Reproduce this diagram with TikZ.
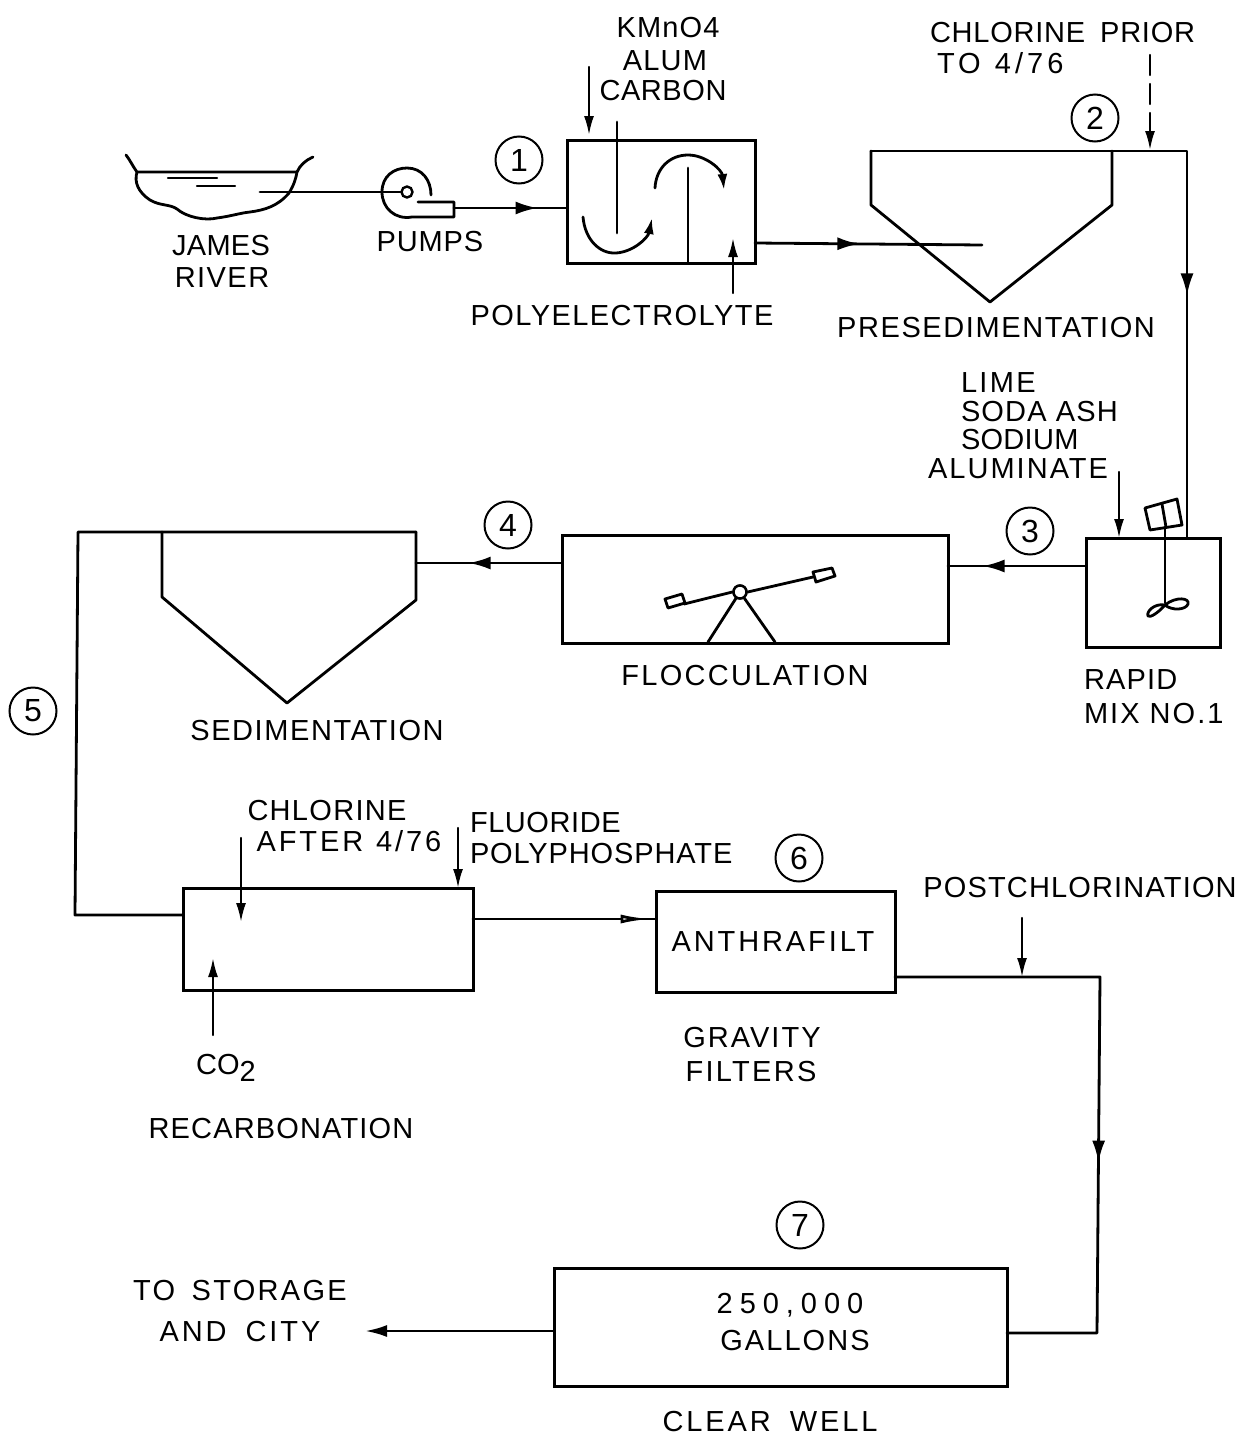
\documentclass[tikz,border=0pt]{standalone}
\usepackage{fontspec}
\usepackage{graphicx}
\setmainfont{Liberation Sans}
\usetikzlibrary{arrows.meta,decorations.markings}
\newcommand{\lblfont}{\fontsize{29}{31}\selectfont}
\newcommand{\wide}[2]{\scalebox{#1}[1]{#2}}
\tikzset{
  ink/.style={line width=2.8pt,line cap=round,line join=round,black},
  fine/.style={line width=2.2pt,line cap=round,line join=round,black},
  box/.style={draw,line width=3pt,inner sep=0pt,outer sep=0pt,rectangle},
  num/.style={draw,circle,line width=2pt,minimum size=47pt,inner sep=0pt,font=\fontsize{32}{34}\selectfont},
  lab/.style={inner sep=0pt,outer sep=0pt,font=\lblfont,text height=21pt,text depth=0pt},
  labl/.style={lab,anchor=west},
  sp/.style={font=\lblfont\addfontfeature{LetterSpace=#1}},
  tip/.style={-{Latex[length=19pt,width=10pt]}},
  flowtip/.style={postaction={decorate,decoration={markings,mark=at position #1 with {\arrow{Latex[length=22pt,width=13pt]}}}}},
  opentip/.style={postaction={decorate,decoration={markings,mark=at position #1 with {\arrow{Latex[length=30pt,width=9pt,open,fill=white]}}}}}
}
\begin{document}
\begin{tikzpicture}[x=1pt,y=-1pt]
\useasboundingbox[fill=white] (0,0) rectangle (1246,1438);

% --- boxes
\node[box,minimum width=188pt,minimum height=123pt] (mixer) at (661,201.5) {};
\node[box,minimum width=134pt,minimum height=109pt] (rapid) at (1153,592.5) {};
\node[box,minimum width=386pt,minimum height=108pt] (floc) at (755,589) {};
\node[box,minimum width=290pt,minimum height=102pt] (recarb) at (328,939) {};
\node[box,minimum width=239pt,minimum height=101pt] (filt) at (775.5,941.5) {};
\node[box,minimum width=453pt,minimum height=118pt] (well) at (780.5,1327) {};

% --- numbered circles
\node[num] (n1) at (519,160) {1};
\node[num] (n2) at (1095,118) {2};
\node[num] (n3) at (1030,531) {3};
\node[num] (n4) at (508,525) {4};
\node[num] (n5) at (33,711) {5};
\node[num] (n6) at (799,858) {6};
\node[num] (n7) at (800,1225) {7};

% --- river
\draw[ink] (126,155) .. controls (130,160) and (132,165) .. (137,172) -- (297,172);
\draw[ink] (137,172) .. controls (134,182) and (138,192) .. (150,200)
  .. controls (160,206) and (170,204) .. (177,209)
  .. controls (186,217) and (205,221) .. (217,218)
  .. controls (232,216) and (240,213) .. (250,212)
  .. controls (265,210) and (278,206) .. (289,193)
  .. controls (294,185) and (296,178) .. (297,172)
  .. controls (300,165) and (306,160) .. (313,157);
\draw[fine] (168,178) -- (217,178);
\draw[fine] (197,186) -- (235,186);
\coordinate (rivermouth) at (260,192);

% --- pump
\node[draw,circle,line width=2.4pt,minimum size=11pt,inner sep=0pt] (impeller) at (407,192) {};
\draw[ink] (418,202) -- (454,202) -- (454,217) -- (412,217)
  .. controls (395,220) and (382,208) .. (382,192)
  .. controls (382,176) and (394,168) .. (407,168)
  .. controls (422,168) and (431,180) .. (431,195);
\coordinate (pumpout) at (454,208);
\draw[ink] (rivermouth) -- (impeller.west);
\draw[ink,flowtip=0.74] (pumpout) -- (mixer.west |- pumpout);

% --- mixing basin internals
\coordinate (bafA) at (617,122);
\coordinate (bafAend) at (617,233);
\draw[ink] (bafA) -- (bafAend);
\coordinate (bafB) at (688,168);
\draw[ink] (bafB) -- (bafB |- mixer.south);
\draw[ink,-{Latex[length=16pt,width=10pt]}] (583,217) .. controls (585,240) and (600,254) .. (616,253) .. controls (633,252) and (648,238) .. (652,218);
\draw[ink,-{Latex[length=16pt,width=10pt]}] (655,188) .. controls (656,168) and (670,155) .. (688,155) .. controls (706,155) and (722,170) .. (724,190);
\coordinate (chemA) at (589,67);
\draw[fine,tip] (chemA) -- (589,135);
\coordinate (polyA) at (733,293);
\draw[fine,tip] (polyA) -- (733,238);

% --- presedimentation
\coordinate (preTL) at (871,151);
\coordinate (preTR) at (1112,151);
\draw[ink] (preTL) -- (871,205) -- (990,302) -- (1112,205) -- (preTR);
\coordinate (preIn) at (982,245);
\draw[ink,flowtip=0.46] (mixer.east |- 0,243) -- (preIn);
\coordinate (corner1) at (1187,151);
\coordinate (feedIn) at (1187,538);
\draw[ink,flowtip=0.655] (preTL) -- (corner1) -- (feedIn);
\coordinate (clPrior) at (1150,55);
\draw[fine,dash pattern=on 20pt off 9pt,tip] (clPrior) -- (1150,150);

% --- rapid mix
\coordinate (limeA) at (1119,472);
\draw[fine,tip] (limeA) -- (limeA |- rapid.north);
\draw[ink] (1145,508) -- (1177,499) -- (1182,525) -- (1150,530) -- cycle;
\draw[ink] (1162,504) -- (1166,527);
\draw[ink] (1165,527) -- (1165,603);
\draw[ink] (1165,605) .. controls (1176,596) and (1190,598) .. (1188,604) .. controls (1186,610) and (1172,611) .. (1165,605)
  .. controls (1158,613) and (1150,618) .. (1148,616) .. controls (1146,612) and (1154,603) .. (1165,605);
\draw[ink,flowtip=0.75] (rapid.west |- 0,566) -- (floc.east |- 0,566);

% --- flocculation paddle
\node[draw,circle,line width=2.4pt,minimum size=13pt,inner sep=0pt] (pivot) at (740,592) {};
\coordinate (footL) at (708,642);
\coordinate (footR) at (775,642);
\draw[ink] (pivot) -- (footL);
\draw[ink] (pivot) -- (footR);
\node[draw,circle,line width=2.4pt,minimum size=13pt,inner sep=0pt,fill=white] at (pivot) {};
\draw[ink] (684,604) -- (pivot.west);
\draw[ink] (pivot.east) -- (813,577);
\draw[ink] (665,599) -- (682,594) -- (685,603) -- (668,608) -- cycle;
\draw[ink] (813,572) -- (832,568) -- (835,576) -- (816,582) -- cycle;

% --- sedimentation
\coordinate (sedTR) at (416,532);
\coordinate (sedL) at (162,532);
\draw[ink] (sedL) -- (162,597) -- (287,703) -- (416,600) -- (sedTR);
\coordinate (sedIn) at (416,563);
\draw[ink,flowtip=0.64] (floc.west |- sedIn) -- (sedIn);
\coordinate (sedOutCorner) at (78,532);
\coordinate (lowCorner) at (75,915);
\draw[ink] (sedTR) -- (sedOutCorner) -- (lowCorner) -- (recarb.west |- lowCorner);

% --- recarbonation
\coordinate (clA) at (241,838);
\draw[fine,tip] (clA) -- (241,922);
\coordinate (coA) at (213,1035);
\draw[fine,tip] (coA) -- (213,958);
\coordinate (fluA) at (458,828);
\draw[fine,tip] (fluA) -- (fluA |- recarb.north);
\draw[ink,opentip=0.97] (recarb.east |- 0,919) -- (filt.west |- 0,919);

% --- filter to clear well
\coordinate (postA) at (1022,918);
\coordinate (fltOutCorner) at (1100,977);
\coordinate (wellCorner) at (1097,1333);
\draw[fine,tip] (postA) -- (postA |- fltOutCorner);
\draw[ink,flowtip=0.6] (filt.east |- fltOutCorner) -- (fltOutCorner) -- (wellCorner) -- (well.east |- wellCorner);
\coordinate (cityEnd) at (365,1331);
\draw[ink,-{Latex[length=22pt,width=12pt]}] (well.west |- cityEnd) -- (cityEnd);

% --- labels
\node[lab,sp=4] (tK) at (668,27) {KMnO4};
\node[lab,sp=4] (tAl) at (665,60) {ALUM};
\node[lab,sp=2] (tCa) at (663,90) {CARBON};
\node[labl,sp=2.7] (tCp) at (930,32) {CHLORINE\hspace{6pt} PRIOR};
\node[labl,sp=14] (tTo) at (937,63) {TO\hspace{2pt} 4/76};
\node[lab,sp=1] (tJa) at (221,245) {JAMES};
\node[lab,sp=5] (tRi) at (222,277) {RIVER};
\node[lab,sp=3] (tPu) at (430,241) {PUMPS};
\node[lab,sp=5] (tPo) at (622,315) {POLYELECTROLYTE};
\node[lab,sp=5.5] (tPr) at (996,327) {PRESEDIMENTATION};
\node[labl,sp=8] (tLi) at (961,382) {LIME};
\node[labl,sp=4] (tSo) at (961,411) {SODA ASH};
\node[labl,sp=1] (tSd) at (961,439) {SODIUM};
\node[labl,sp=7] (tAu) at (928,468) {ALUMINATE};
\node[lab,sp=8] (tFl) at (745,675) {FLOCCULATION};
\node[labl,sp=4] (tRa) at (1084,679) {RAPID};
\node[labl,sp=7] (tMi) at (1084,713) {MIX NO.1};
\node[lab,sp=5.5] (tSe) at (317,730) {SEDIMENTATION};
\node[lab,sp=4.5] (tCh) at (327,810) {CHLORINE};
\node[lab,sp=10] (tAf) at (349,841) {AFTER\hspace{2pt} 4/76};
\node[labl,sp=2] (tFu) at (470,822) {FLUORIDE};
\node[labl,sp=3] (tPp) at (470,853) {POLYPHOSPHATE};
\node[lab,sp=10] (tAn) at (773,941) {ANTHRAFILT};
\node[lab,sp=4] (tPc) at (1080,887) {POSTCHLORINATION};
\node[lab,sp=7] (tGr) at (752,1037) {GRAVITY};
\node[lab,sp=8] (tFi) at (751,1071) {FILTERS};
\node[lab] (tCo) at (226,1064) {CO\raisebox{-7pt}{2}};
\node[lab,sp=4] (tRe) at (281,1128) {RECARBONATION};
\node[lab,sp=24] (t25) at (790,1303) {250,000};
\node[lab,sp=7] (tGa) at (795,1340) {GALLONS};
\node[lab,sp=8] (tSt) at (240,1290) {TO\hspace{6pt} STORAGE};
\node[lab,sp=10] (tAc) at (240,1331) {AND\hspace{8pt} CITY};
\node[lab,sp=10] (tCw) at (770,1421) {CLEAR\hspace{8pt} WELL};
\end{tikzpicture}
\end{document}
